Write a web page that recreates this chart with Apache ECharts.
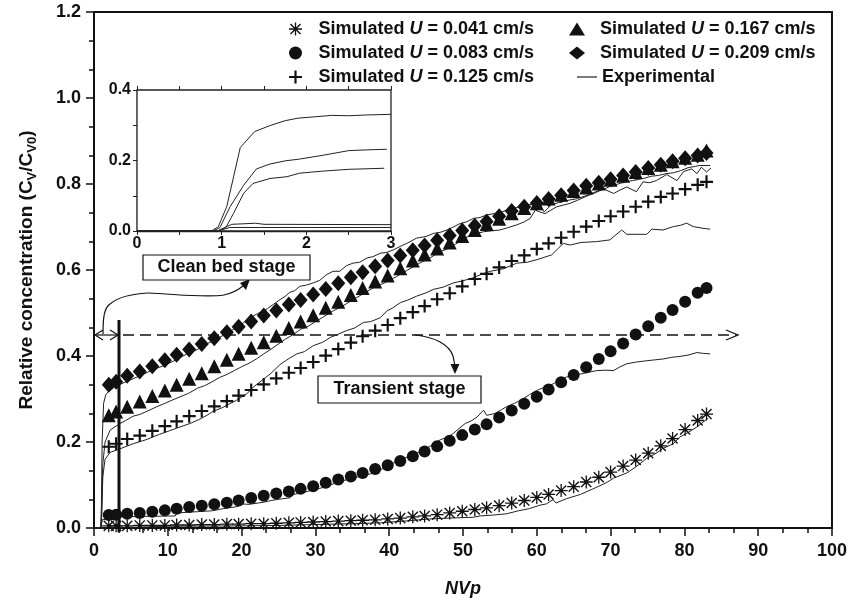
<!DOCTYPE html>
<html>
<head>
<meta charset="utf-8">
<script src="https://cdn.jsdelivr.net/npm/echarts@6/dist/echarts.min.js"></script>
<style>
  html, body { margin: 0; padding: 0; background: #fff; }
  #chart { width: 850px; height: 603px; }
</style>
</head>
<body>
<div id="chart"></div>
<script>
// NVp positions of the simulated points
const nvp = [2.0, 3.0, 4.5, 6.2, 7.9, 9.6, 11.2, 12.9, 14.6, 16.3, 18.0, 19.6, 21.3, 23.0, 24.7, 26.4, 28.0, 29.7, 31.4, 33.1,
  34.8, 36.4, 38.1, 39.8, 41.5, 43.2, 44.8, 46.5, 48.2, 49.9, 51.6, 53.2, 54.9, 56.6, 58.3, 60.0, 61.6, 63.3, 65.0, 66.7,
  68.4, 70.0, 71.7, 73.4, 75.1, 76.8, 78.4, 80.1, 81.8, 83.0];

// simulated relative concentration
const sim041 = [0.005, 0.005, 0.005, 0.006, 0.006, 0.006, 0.007, 0.007, 0.008, 0.008, 0.009, 0.009, 0.010, 0.010, 0.011, 0.012, 0.013, 0.014, 0.015, 0.016,
  0.017, 0.018, 0.019, 0.021, 0.023, 0.026, 0.028, 0.031, 0.035, 0.039, 0.043, 0.047, 0.052, 0.058, 0.064, 0.071, 0.078, 0.087, 0.096, 0.107,
  0.118, 0.130, 0.144, 0.158, 0.174, 0.191, 0.208, 0.229, 0.250, 0.265];
const sim083 = [0.030, 0.031, 0.033, 0.035, 0.038, 0.041, 0.045, 0.049, 0.052, 0.055, 0.059, 0.064, 0.070, 0.075, 0.080, 0.085, 0.091, 0.097, 0.105, 0.113,
  0.120, 0.128, 0.137, 0.146, 0.156, 0.167, 0.178, 0.190, 0.203, 0.216, 0.229, 0.241, 0.257, 0.273, 0.289, 0.305, 0.322, 0.339, 0.356, 0.374,
  0.393, 0.411, 0.429, 0.450, 0.469, 0.489, 0.507, 0.526, 0.547, 0.558];
const sim125 = [0.189, 0.196, 0.207, 0.215, 0.226, 0.237, 0.248, 0.260, 0.272, 0.283, 0.295, 0.308, 0.321, 0.334, 0.348, 0.361, 0.372, 0.386, 0.401, 0.416,
  0.431, 0.446, 0.459, 0.472, 0.488, 0.502, 0.516, 0.532, 0.546, 0.562, 0.579, 0.591, 0.606, 0.621, 0.634, 0.649, 0.662, 0.675, 0.689, 0.701,
  0.714, 0.725, 0.736, 0.747, 0.759, 0.770, 0.778, 0.788, 0.798, 0.805];
const sim167 = [0.262, 0.271, 0.282, 0.294, 0.307, 0.320, 0.333, 0.347, 0.360, 0.376, 0.391, 0.405, 0.419, 0.432, 0.447, 0.465, 0.480, 0.495, 0.512, 0.526,
  0.542, 0.558, 0.573, 0.587, 0.604, 0.622, 0.636, 0.650, 0.664, 0.679, 0.693, 0.707, 0.719, 0.732, 0.744, 0.755, 0.766, 0.775, 0.784, 0.792,
  0.801, 0.810, 0.819, 0.828, 0.837, 0.845, 0.853, 0.861, 0.868, 0.878];
const sim209 = [0.333, 0.340, 0.354, 0.364, 0.376, 0.390, 0.403, 0.415, 0.428, 0.441, 0.455, 0.468, 0.480, 0.494, 0.506, 0.520, 0.530, 0.543, 0.556, 0.569,
  0.583, 0.595, 0.609, 0.622, 0.634, 0.646, 0.657, 0.669, 0.680, 0.692, 0.703, 0.713, 0.725, 0.737, 0.747, 0.756, 0.765, 0.774, 0.785, 0.796,
  0.803, 0.811, 0.820, 0.828, 0.837, 0.845, 0.853, 0.860, 0.866, 0.872];

// experimental curves [NVp, C/C0]
const exp209 = [[0, 0], [0.9, 0], [1.0, 0.05], [1.1, 0.2], [1.3, 0.29], [1.6, 0.31], [2, 0.318], [3, 0.33], [5, 0.345], [6.5, 0.356], [8, 0.368],
  [9.5, 0.378], [11, 0.39], [12.5, 0.404], [14, 0.415], [15.5, 0.43], [17, 0.443], [18.5, 0.458], [20, 0.474], [21, 0.487], [22, 0.497],
  [23.5, 0.51], [24.3, 0.52], [25.2, 0.531], [26, 0.54], [26.5, 0.548], [27.2, 0.552], [27.9, 0.562], [28.8, 0.565], [29.7, 0.57],
  [30.6, 0.576], [31.5, 0.589], [32.4, 0.597], [33.3, 0.597], [34.2, 0.61], [35.1, 0.616], [36, 0.618], [37, 0.628], [37.8, 0.631],
  [38.8, 0.639], [39.7, 0.641], [40.6, 0.647], [41.5, 0.655], [42.4, 0.662], [43.7, 0.674], [45, 0.678], [46, 0.685], [47, 0.688],
  [47.8, 0.693], [48.7, 0.70], [49.6, 0.708], [50.5, 0.712], [51.4, 0.72], [52.3, 0.722], [53.2, 0.728], [54.2, 0.731], [55, 0.733],
  [56, 0.74], [57, 0.744], [58, 0.749], [59, 0.752], [60.2, 0.755], [61, 0.735], [62, 0.752], [63, 0.757], [64.5, 0.763], [65.5, 0.766],
  [66.5, 0.772], [68, 0.782], [69, 0.787], [70, 0.795], [71, 0.80], [72, 0.805], [73, 0.808], [74.5, 0.813], [75.5, 0.818], [76.5, 0.82],
  [77.5, 0.824], [78.5, 0.826], [79.5, 0.831], [80.5, 0.838], [81.5, 0.841], [82, 0.843], [83.5, 0.843]];
const exp167 = [[0, 0], [0.95, 0], [1.05, 0.03], [1.2, 0.15], [1.5, 0.2], [2.2, 0.228], [3.5, 0.243], [4.3, 0.25], [5.3, 0.26], [6.2, 0.264],
  [7, 0.27], [8.5, 0.282], [9.5, 0.289], [10.4, 0.296], [11.65, 0.305], [12.8, 0.313], [14, 0.325], [15, 0.331], [16, 0.34], [17, 0.35],
  [18, 0.357], [19, 0.366], [20, 0.375], [21, 0.383], [22, 0.393], [23, 0.405], [24, 0.416], [25, 0.428], [26, 0.44], [27, 0.45],
  [28, 0.462], [29, 0.469], [30, 0.48], [31, 0.49], [32.4, 0.505], [33.5, 0.514], [35, 0.53], [36.5, 0.545], [38, 0.56], [39.5, 0.571],
  [41, 0.585], [42.5, 0.6], [44, 0.615], [45.5, 0.628], [47, 0.643], [48, 0.65], [49, 0.66], [50, 0.671], [51, 0.681], [52.8, 0.689],
  [55, 0.693], [56, 0.698], [57.3, 0.705], [58.3, 0.712], [59.1, 0.72], [59.8, 0.739], [61.1, 0.731], [62.7, 0.747], [64.5, 0.755],
  [65.5, 0.762], [66.8, 0.772], [68, 0.78], [69, 0.789], [70.4, 0.778], [71.3, 0.786], [72.2, 0.793], [73.5, 0.782], [74.4, 0.805],
  [75.3, 0.803], [76.2, 0.808], [77.6, 0.822], [79, 0.808], [79.9, 0.829], [81, 0.835], [81.7, 0.824], [82.3, 0.839], [83, 0.828], [83.6, 0.837]];
const exp125 = [[0, 0], [0.95, 0], [1.0, 0.02], [1.2, 0.12], [1.5, 0.16], [2.2, 0.176], [3.5, 0.184], [5.3, 0.196], [7, 0.205], [8.9, 0.218],
  [10.2, 0.226], [11.65, 0.235], [13, 0.243], [14.2, 0.252], [15.3, 0.262], [16.2, 0.272], [17.3, 0.279], [18.4, 0.289], [19.3, 0.297],
  [20.7, 0.312], [21.6, 0.328], [22.9, 0.345], [24, 0.36], [25.2, 0.38], [26.5, 0.395], [27.5, 0.405], [28.5, 0.41], [29.7, 0.424],
  [31, 0.432], [32, 0.443], [33, 0.45], [34.2, 0.459], [35.3, 0.465], [36.5, 0.478], [37.5, 0.48], [38.8, 0.489], [39.7, 0.505],
  [40.5, 0.512], [41.5, 0.524], [42.5, 0.53], [43.7, 0.539], [45, 0.547], [46, 0.555], [47.3, 0.56], [48.7, 0.57], [50, 0.575],
  [51.4, 0.582], [52.5, 0.59], [53.7, 0.597], [55.5, 0.603], [57.3, 0.616], [58.7, 0.618], [60, 0.624], [62, 0.635], [63.6, 0.662],
  [64.5, 0.658], [66, 0.664], [68.1, 0.666], [69.9, 0.67], [71.5, 0.693], [72.2, 0.683], [74.9, 0.683], [75.6, 0.695], [77.1, 0.693],
  [78.5, 0.701], [79.5, 0.704], [80.3, 0.709], [81.2, 0.701], [82.5, 0.697], [83.5, 0.695]];
const exp083 = [[0, 0], [0.95, 0], [1.05, 0.012], [1.15, 0.02], [3.4, 0.02], [3.5, 0.026], [7, 0.027], [11, 0.028], [11.3, 0.035], [14, 0.038],
  [16, 0.04], [17.5, 0.045], [19.5, 0.05], [20, 0.056], [21, 0.055], [23, 0.06], [24, 0.064], [25.5, 0.068], [26.5, 0.07], [27, 0.078],
  [28.5, 0.083], [29.7, 0.089], [31, 0.094], [32, 0.1], [33, 0.106], [34.2, 0.112], [36, 0.12], [37.5, 0.126], [38.8, 0.135], [40, 0.146],
  [41.5, 0.159], [43, 0.168], [44.2, 0.178], [45.5, 0.19], [46.9, 0.205], [48, 0.212], [48.7, 0.22], [49.5, 0.232], [50.3, 0.243],
  [51.2, 0.25], [51.9, 0.258], [52.8, 0.274], [53.2, 0.262], [54.3, 0.266], [55.2, 0.275], [55.9, 0.282], [57, 0.29], [58.2, 0.301],
  [59, 0.31], [60, 0.32], [61, 0.327], [62.2, 0.335], [63, 0.343], [64, 0.351], [65, 0.355], [65.9, 0.358], [67, 0.362], [68.1, 0.366],
  [69.3, 0.367], [70.4, 0.366], [71.3, 0.375], [72.2, 0.382], [73.5, 0.386], [74.9, 0.389], [76, 0.391], [77.1, 0.393], [78.3, 0.397],
  [79.4, 0.399], [80.5, 0.402], [81.7, 0.408], [82.6, 0.406], [83.5, 0.405]];
const exp041 = [[0, 0], [0.95, 0], [1.1, 0.004], [10, 0.004], [20, 0.005], [25, 0.006], [30, 0.008], [35, 0.01], [38.8, 0.012], [42, 0.016],
  [45.5, 0.021], [48, 0.023], [51.4, 0.025], [52.3, 0.028], [54, 0.03], [55.9, 0.033], [57.5, 0.04], [59, 0.045], [60.4, 0.053],
  [61.3, 0.056], [62.2, 0.066], [62.6, 0.058], [64, 0.068], [65.9, 0.078], [67.5, 0.09], [69.5, 0.106], [70.4, 0.116], [72.2, 0.128],
  [73.5, 0.143], [74.9, 0.162], [76, 0.172], [77.1, 0.185], [78.5, 0.196], [79.4, 0.212], [80.5, 0.222], [81.7, 0.235], [83.2, 0.255]];

// inset: early breakthrough (NVp 0-3)
const in209 = [[0, 0], [0.88, 0], [0.96, 0.012], [1.06, 0.069], [1.22, 0.237], [1.39, 0.282], [1.57, 0.299], [1.75, 0.313], [1.9, 0.32],
  [2.1, 0.324], [2.3, 0.328], [2.5, 0.327], [2.7, 0.329], [3.0, 0.331]];
const in167 = [[0, 0], [0.9, 0], [0.98, 0.01], [1.1, 0.069], [1.26, 0.13], [1.41, 0.176], [1.57, 0.19], [1.75, 0.199], [1.92, 0.204],
  [2.2, 0.215], [2.5, 0.228], [2.7, 0.23], [2.95, 0.232]];
const in125 = [[0, 0], [0.95, 0], [1.05, 0.01], [1.14, 0.05], [1.26, 0.107], [1.37, 0.135], [1.57, 0.149], [1.77, 0.154], [1.92, 0.164],
  [2.2, 0.17], [2.5, 0.175], [2.92, 0.178]];
const in083 = [[0, 0], [0.95, 0], [1.12, 0.019], [1.4, 0.022], [1.5, 0.019], [3, 0.018]];
const in041 = [[0, 0], [0.95, 0], [1.1, 0.01], [3, 0.01]];

const simNames = ['Simulated U = 0.041 cm/s', 'Simulated U = 0.083 cm/s', 'Simulated U = 0.125 cm/s',
  'Simulated U = 0.167 cm/s', 'Simulated U = 0.209 cm/s'];

const FONT = '"Liberation Sans", Arial, sans-serif';
const INK = '#111';

const asterisk = 'path://M0,9L20,9L20,11L0,11Z M9,0L11,0L11,20L9,20Z M1.5,3L3,1.5L18.5,17L17,18.5Z M17,1.5L18.5,3L3,18.5L1.5,17Z';
const plus = 'path://M0,5L12,5L12,7L0,7Z M5,0L7,0L7,12L5,12Z';
const lineIcon = 'path://M0,0L20,0L20,1.2L0,1.2Z';

const myChart = echarts.init(document.getElementById('chart'));

function zipXY(ys) { return nvp.map((x, i) => [x, ys[i]]); }

function simSeries(name, ys, symbol, size) {
  return {
    name, type: 'scatter', xAxisIndex: 0, yAxisIndex: 0,
    data: zipXY(ys), symbol, symbolSize: size,
    itemStyle: { color: INK, opacity: 1 }, z: 3, silent: true
  };
}
function expSeries(data, xi) {
  return {
    name: 'Experimental', type: 'line', xAxisIndex: xi, yAxisIndex: xi,
    data, symbol: 'none', showSymbol: false,
    lineStyle: { color: '#222', width: 1 }, itemStyle: { color: '#222' },
    z: 2, silent: true
  };
}

const legendText = {
  fontSize: 18, fontWeight: 'bold', fontFamily: FONT, color: INK, lineHeight: 24, padding: [0, 0, 0, 10],
  rich: {
    a: { fontSize: 18, fontWeight: 'bold', fontFamily: FONT, color: INK, lineHeight: 24 },
    u: { fontSize: 18, fontWeight: 'bold', fontStyle: 'italic', fontFamily: FONT, color: INK, lineHeight: 24 }
  }
};
function legendFmt(name) {
  if (name === 'Experimental') return '{a|Experimental}';
  const rest = name.replace('Simulated U', '');
  return '{a|Simulated }{u|U}{a|' + rest + '}';
}
const legendBase = { orient: 'vertical', top: 17, padding: 0, itemWidth: 16, itemHeight: 13, itemGap: 0,
  textStyle: legendText, formatter: legendFmt, selectedMode: false };

const axisTxt = { fontSize: 18, fontWeight: 'bold', fontFamily: FONT, color: INK };
const insetTxt = { fontSize: 16, fontWeight: 'bold', fontFamily: FONT, color: INK };

function curve(x1, y1, cpx1, cpy1, cpx2, cpy2, x2, y2) {
  return { type: 'bezierCurve', shape: { x1, y1, cpx1, cpy1, cpx2, cpy2, x2, y2 },
    style: { stroke: INK, fill: null, lineWidth: 1.2 }, z: 5 };
}

const option = {
  animation: false,
  backgroundColor: '#fff',
  grid: [
    { left: 94, top: 12, width: 738, height: 520, show: true, borderColor: INK, borderWidth: 2, backgroundColor: 'transparent' },
    { left: 137, top: 90, width: 254, height: 141, show: true, borderColor: '#222', borderWidth: 1.3, backgroundColor: '#fff', z: 1 }
  ],
  legend: [
    Object.assign({}, legendBase, { data: simNames.slice(0, 3), left: 289 }),
    Object.assign({}, legendBase, { data: simNames.slice(3), left: 569 }),
    Object.assign({}, legendBase, { data: [{ name: 'Experimental', icon: lineIcon }], left: 577, top: 65, itemWidth: 20,
      textStyle: Object.assign({}, legendText, { padding: [0, 0, 0, 0] }) })
  ],
  xAxis: [
    {
      type: 'value', gridIndex: 0, min: 0, max: 100, interval: 10,
      name: 'NVp', nameLocation: 'middle', nameGap: 52,
      nameTextStyle: { fontSize: 18, fontWeight: 'bold', fontStyle: 'italic', fontFamily: FONT, color: INK },
      axisLine: { lineStyle: { color: INK, width: 2 } },
      axisTick: { length: 8, lineStyle: { color: INK, width: 1.5 } },
      minorTick: { show: true, splitNumber: 3, length: 5, lineStyle: { color: INK, width: 1.5 } },
      axisLabel: Object.assign({ margin: 14, showMinLabel: true, showMaxLabel: true }, axisTxt),
      splitLine: { show: false }
    },
    {
      type: 'value', gridIndex: 1, min: 0, max: 3, interval: 0.5,
      axisLine: { lineStyle: { color: '#222', width: 1.3 } },
      axisTick: { length: 4, lineStyle: { color: '#222' } },
      axisLabel: Object.assign({ margin: 5, showMinLabel: true, showMaxLabel: true,
        formatter: v => (Math.abs(v - Math.round(v)) < 1e-6 ? String(Math.round(v)) : '') }, insetTxt),
      splitLine: { show: false }
    },
    {
      type: 'value', gridIndex: 1, position: 'top', min: 0, max: 3, interval: 0.5,
      axisLine: { show: false },
      axisTick: { length: 4, lineStyle: { color: '#222' } },
      axisLabel: { show: false }, splitLine: { show: false }
    }
  ],
  yAxis: [
    {
      type: 'value', gridIndex: 0, min: 0, max: 1.2, interval: 0.2,
      name: '{a|Relative concentration (C}{s|V}{a|/C}{s|V0}{a|)}',
      nameLocation: 'middle', nameGap: 55,
      nameTextStyle: {
        rich: {
          a: { fontSize: 19, fontWeight: 'bold', fontFamily: FONT, color: INK, lineHeight: 25 },
          s: { fontSize: 13, fontWeight: 'bold', fontFamily: FONT, color: INK, lineHeight: 25, verticalAlign: 'bottom' }
        }
      },
      axisLine: { lineStyle: { color: INK, width: 2 } },
      axisTick: { length: 8, lineStyle: { color: INK, width: 1.5 } },
      minorTick: { show: true, splitNumber: 3, length: 5, lineStyle: { color: INK, width: 1.5 } },
      axisLabel: Object.assign({ margin: 13, formatter: v => v.toFixed(1) }, axisTxt),
      splitLine: { show: false }
    },
    {
      type: 'value', gridIndex: 1, min: 0, max: 0.4, interval: 0.1,
      axisLine: { lineStyle: { color: '#222', width: 1.3 } },
      axisTick: { length: 4, lineStyle: { color: '#222' } },
      axisLabel: Object.assign({ margin: 6,
        formatter: v => (Math.round(v * 10) % 2 === 0 ? v.toFixed(1) : '') }, insetTxt),
      splitLine: { show: false }
    }
  ],
  series: [
    simSeries(simNames[0], sim041, asterisk, 13),
    simSeries(simNames[1], sim083, 'circle', 12),
    simSeries(simNames[2], sim125, plus, 13),
    simSeries(simNames[3], sim167, 'triangle', 14),
    simSeries(simNames[4], sim209, 'diamond', [14, 16]),
    expSeries(exp041, 0), expSeries(exp083, 0), expSeries(exp125, 0), expSeries(exp167, 0), expSeries(exp209, 0),
    expSeries(in041, 1), expSeries(in083, 1), expSeries(in125, 1), expSeries(in167, 1), expSeries(in209, 1)
  ],
  graphic: [
    // clean bed / transient boundary marker
    { type: 'line', shape: { x1: 119, y1: 320, x2: 119, y2: 532 }, style: { stroke: INK, lineWidth: 3 }, z: 5 },
    { type: 'line', shape: { x1: 95, y1: 335, x2: 118, y2: 335 }, style: { stroke: INK, lineWidth: 1.2 }, z: 5 },
    { type: 'polyline', shape: { points: [[103, 330], [95, 335], [103, 340]] }, style: { stroke: INK, fill: null, lineWidth: 1.2 }, z: 5 },
    { type: 'polyline', shape: { points: [[110, 330], [118, 335], [110, 340]] }, style: { stroke: INK, fill: null, lineWidth: 1.2 }, z: 5 },
    { type: 'line', shape: { x1: 123, y1: 335, x2: 737, y2: 335 }, style: { stroke: INK, lineWidth: 1.3, lineDash: [11, 6] }, z: 1 },
    { type: 'polyline', shape: { points: [[726, 330], [738, 335], [726, 340]] }, style: { stroke: INK, fill: null, lineWidth: 1.3 }, z: 5 },
    // clean bed stage label
    curve(103, 334, 103, 318, 104, 308, 110, 304),
    curve(110, 304, 116, 299, 128, 294, 148, 293),
    curve(148, 293, 175, 294, 205, 298, 224, 295),
    curve(224, 295, 233, 293, 238, 290, 243, 286),
    { type: 'polygon', shape: { points: [[250, 279], [240, 283], [246, 290]] }, style: { fill: INK }, z: 5 },
    { type: 'rect', shape: { x: 143, y: 255, width: 167, height: 25 }, style: { fill: '#fff', stroke: INK, lineWidth: 1.2 }, z: 6 },
    { type: 'text', x: 226.5, y: 267.5, style: { text: 'Clean bed stage', fontSize: 18, fontWeight: 'bold', fontFamily: FONT, fill: INK,
      align: 'center', verticalAlign: 'middle' }, z: 7 },
    // transient stage label
    curve(415, 335, 434, 337, 449, 344, 453, 356),
    { type: 'line', shape: { x1: 453, y1: 356, x2: 455, y2: 366 }, style: { stroke: INK, lineWidth: 1.2 }, z: 5 },
    { type: 'polygon', shape: { points: [[450.5, 364], [459.5, 364], [455, 374]] }, style: { fill: INK }, z: 5 },
    { type: 'rect', shape: { x: 318, y: 376, width: 163, height: 27 }, style: { fill: '#fff', stroke: INK, lineWidth: 1.2 }, z: 6 },
    { type: 'text', x: 399.5, y: 389.5, style: { text: 'Transient stage', fontSize: 18, fontWeight: 'bold', fontFamily: FONT, fill: INK,
      align: 'center', verticalAlign: 'middle' }, z: 7 }
  ]
};

myChart.setOption(option);
window.addEventListener('resize', () => myChart.resize());
</script>
</body>
</html>
